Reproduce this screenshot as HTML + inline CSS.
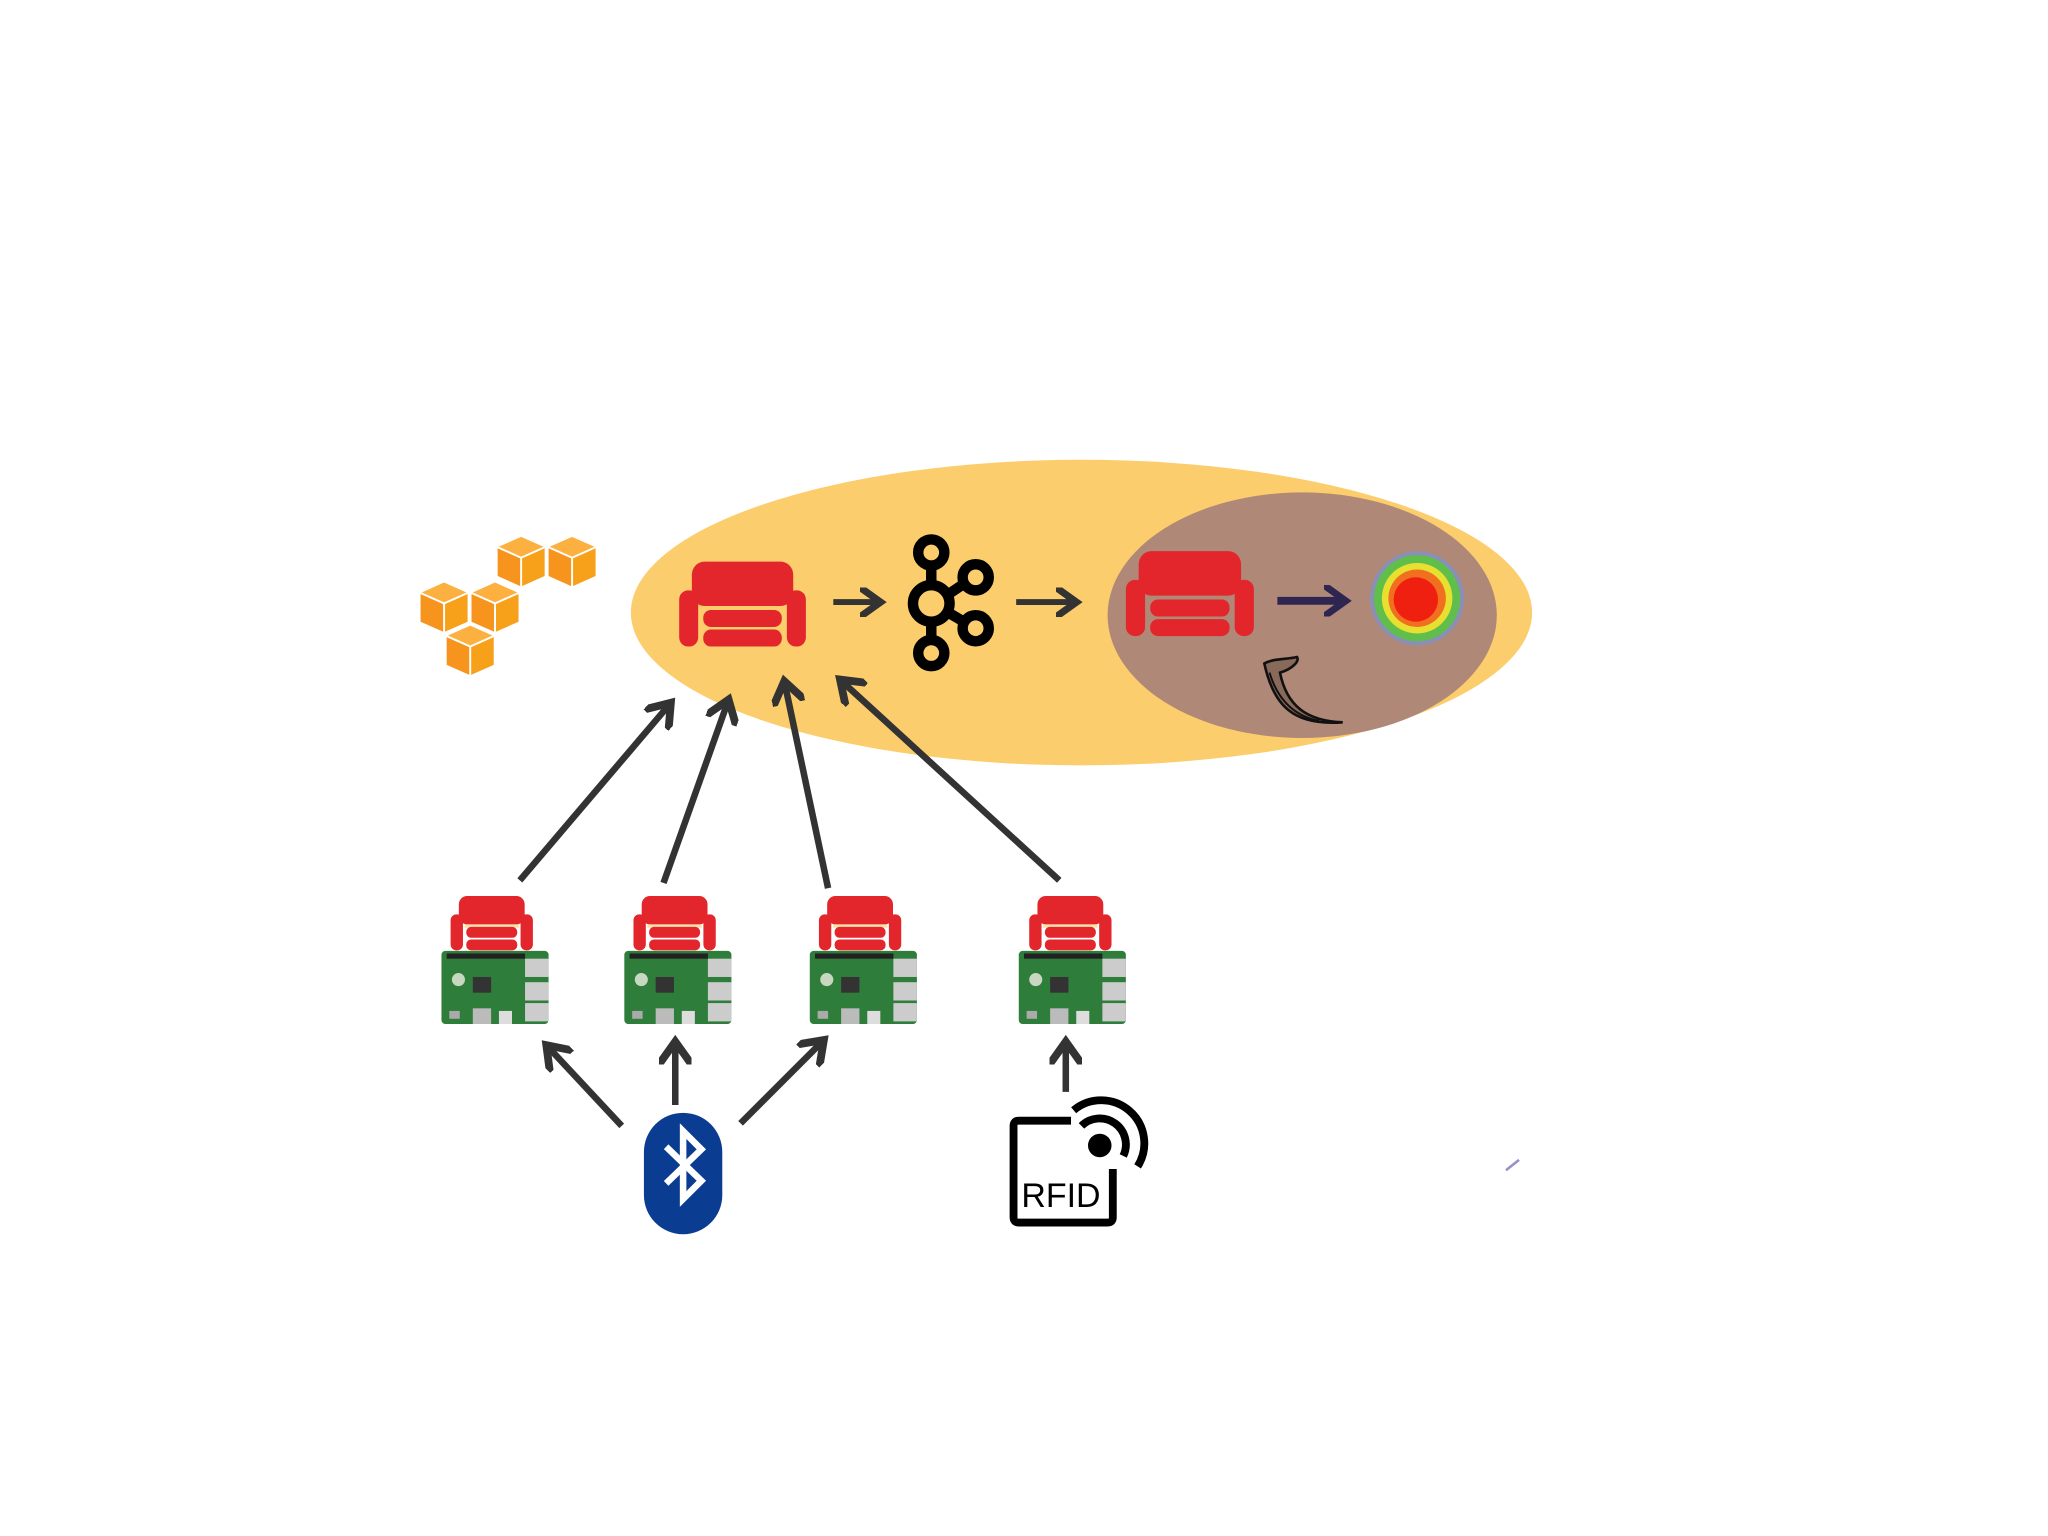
<!DOCTYPE html>
<html><head><meta charset="utf-8"><style>
html,body{margin:0;padding:0;background:#fff;}
svg{display:block;}
</style></head><body>
<svg width="2048" height="1536" viewBox="0 0 1568 1176" xmlns="http://www.w3.org/2000/svg">
<defs>
<g id="couch">
  <rect x="0" y="22" width="15" height="43" rx="7" fill="#e2262b"/>
  <rect x="85" y="22" width="15" height="43" rx="7" fill="#e2262b"/>
  <rect x="10" y="0" width="80" height="34" rx="10" fill="#e2262b"/>
  <rect x="17" y="34" width="66" height="4" fill="#fccd6c" opacity="0.6"/>
  <rect x="19" y="37" width="62" height="13" rx="6" fill="#e2262b"/>
  <rect x="19" y="52" width="62" height="13" rx="6" fill="#e2262b"/>
</g>
<marker id="ah" viewBox="0 0 10 10" refX="6" refY="5" markerWidth="5" markerHeight="5" orient="auto">
  <path d="M0,0 L7,5 L0,10" fill="none" stroke="#333" stroke-width="2.4"/>
</marker>
<marker id="ah2" viewBox="0 0 10 10" refX="6" refY="5" markerWidth="4" markerHeight="4" orient="auto">
  <path d="M0,0 L7,5 L0,10" fill="none" stroke="#2e2550" stroke-width="2.2"/>
</marker>
<g id="cube">
  <path d="M0,8 L18,0 L36,8 L18,16 Z" fill="#fbb040"/>
  <path d="M0,8 L18,16 L18,38 L0,30 Z" fill="#f7941d"/>
  <path d="M36,8 L18,16 L18,38 L36,30 Z" fill="#f7a01a"/>
  <path d="M0,8 L18,16 L36,8 M18,16 L18,38" stroke="#fff" stroke-width="1.5" fill="none"/>
</g>
<g id="pi">
  <rect x="0" y="0" width="82" height="56" rx="3" fill="#2f7d3b"/>
  <rect x="4" y="2" width="60" height="4" fill="#222"/>
  <rect x="64" y="6" width="18" height="14" fill="#ccc"/>
  <rect x="64" y="24" width="18" height="14" fill="#ccc"/>
  <rect x="64" y="40" width="18" height="14" fill="#ccc"/>
  <rect x="24" y="20" width="14" height="12" fill="#333"/>
  <circle cx="13" cy="22" r="5" fill="#c8d8c0"/>
  <rect x="24" y="44" width="14" height="12" fill="#bbb"/>
  <rect x="44" y="46" width="10" height="10" fill="#ddd"/>
  <rect x="6" y="46" width="8" height="6" fill="#aaa"/>
</g>
</defs>

<ellipse cx="828" cy="469" rx="345" ry="117" fill="#fccd6c"/>
<ellipse cx="997" cy="471" rx="149" ry="94" fill="#b08878"/>

<use href="#cube" x="381" y="411"/>
<use href="#cube" x="420" y="411"/>
<use href="#cube" x="322" y="446"/>
<use href="#cube" x="361" y="446"/>
<use href="#cube" x="342" y="479"/>

<use href="#couch" transform="translate(520,430) scale(0.97,1)"/>
<line x1="638" y1="461" x2="672" y2="461" stroke="#333" stroke-width="4.5" marker-end="url(#ah)"/>

<g stroke="#000" stroke-width="8" fill="none">
  <circle cx="713" cy="423" r="10"/>
  <circle cx="713" cy="462" r="14"/>
  <circle cx="713" cy="500" r="10"/>
  <circle cx="747" cy="442" r="10"/>
  <circle cx="747" cy="481" r="10"/>
  <line x1="713" y1="433" x2="713" y2="448"/>
  <line x1="713" y1="476" x2="713" y2="490"/>
  <line x1="726" y1="455" x2="738" y2="447"/>
  <line x1="726" y1="469" x2="738" y2="476"/>
</g>
<line x1="778" y1="461" x2="822" y2="461" stroke="#333" stroke-width="4.5" marker-end="url(#ah)"/>

<g transform="translate(862,422) scale(0.98,1)">
  <rect x="0" y="22" width="15" height="43" rx="7" fill="#e2262b"/>
  <rect x="85" y="22" width="15" height="43" rx="7" fill="#e2262b"/>
  <rect x="10" y="0" width="80" height="34" rx="10" fill="#e2262b"/>
  <rect x="19" y="37" width="62" height="13" rx="6" fill="#e2262b"/>
  <rect x="19" y="52" width="62" height="13" rx="6" fill="#e2262b"/>
</g>
<line x1="978" y1="460" x2="1028" y2="460" stroke="#2e2550" stroke-width="6" marker-end="url(#ah2)"/>

<circle cx="1085" cy="458" r="36" fill="#8a8fb8"/>
<circle cx="1085" cy="458" r="33" fill="#5fbf4a"/>
<circle cx="1085" cy="458" r="27" fill="#e8e030"/>
<circle cx="1085" cy="458" r="22" fill="#f07020"/>
<circle cx="1084" cy="459" r="17" fill="#f02010"/>

<path d="M968,508 C975,540 990,556 1028,553 C1000,552 985,540 980,515 C990,512 995,506 993,503 C985,505 975,504 968,508 Z" fill="#2a2018" fill-opacity="0.3" stroke="#111" stroke-width="2"/>
<path d="M972,515 C978,535 990,548 1010,552" fill="none" stroke="#111" stroke-width="1.5"/>

<g stroke="#333" stroke-width="5" fill="none" marker-end="url(#ah)">
  <line x1="398" y1="674" x2="512" y2="540"/>
  <line x1="508" y1="676" x2="557" y2="538"/>
  <line x1="634" y1="680" x2="601" y2="524"/>
  <line x1="811" y1="674" x2="645" y2="522"/>
</g>

<use href="#couch" transform="translate(345,686) scale(0.63,0.64)"/>
<use href="#pi" x="338" y="728"/>
<use href="#couch" transform="translate(485,686) scale(0.63,0.64)"/>
<use href="#pi" x="478" y="728"/>
<use href="#couch" transform="translate(627,686) scale(0.63,0.64)"/>
<use href="#pi" x="620" y="728"/>
<use href="#couch" transform="translate(788,686) scale(0.63,0.64)"/>
<use href="#pi" x="780" y="728"/>

<g stroke="#333" stroke-width="5" fill="none" marker-end="url(#ah)">
  <line x1="476" y1="862" x2="420" y2="802"/>
  <line x1="517" y1="846" x2="517" y2="800"/>
  <line x1="567" y1="860" x2="629" y2="798"/>
  <line x1="816" y1="836" x2="816" y2="800"/>
</g>

<rect x="493" y="852" width="60" height="93" rx="30" fill="#0a3d91"/>
<path d="M510,878 L537,904 L523,918 L523,866 L537,880 L510,906" fill="none" stroke="#fff" stroke-width="5"/>

<path d="M820,858 L780,858 Q776,858 776,862 L776,932 Q776,936 780,936 L848,936 Q852,936 852,932 L852,895" fill="none" stroke="#000" stroke-width="6"/>
<circle cx="842" cy="877" r="9" fill="#000"/>
<path d="M828,862 A20,20 0 0 1 860,885" fill="none" stroke="#000" stroke-width="6"/>
<path d="M822,850 A33,33 0 0 1 871,893" fill="none" stroke="#000" stroke-width="6"/>
<text x="782" y="924" font-family="Liberation Sans, sans-serif" font-size="26" fill="#000">RFID</text>

<line x1="1153" y1="896" x2="1163" y2="888" stroke="#9a90c8" stroke-width="2"/>
</svg>
</body></html>
